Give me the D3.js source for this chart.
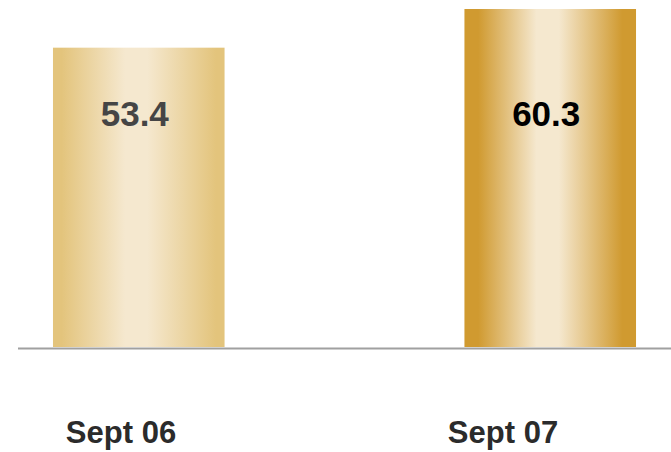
<!DOCTYPE html>
<html>
<head>
<meta charset="utf-8">
<script src="https://cdn.jsdelivr.net/npm/d3@7"></script>
<style>
  html, body { margin: 0; padding: 0; background: #fff; }
  text { font-family: "Liberation Sans", Arial, sans-serif; font-weight: bold; }
</style>
</head>
<body>
<div id="chart"></div>
<script>
const categories = ["Sept 06", "Sept 07"];
const values = [53.4, 60.3];

const width = 671;
const height = 452;

// look of each bar: edge colour of the gradient, colour of the value text
const barLook = [
  { edge: "#e3c47c", mid: "#f5e8cf", label: "#454545" },
  { edge: "#d09a30", mid: "#f5e8cf", label: "#000000" }
];

const svg = d3.select("#chart").append("svg")
  .attr("width", width)
  .attr("height", height);

const x = d3.scaleBand()
  .domain(categories)
  .range([18, 671])
  .paddingInner(0.583)
  .paddingOuter(0.085);

const y = d3.scaleLinear()
  .domain([0, d3.max(values)])
  .range([347, 9]);

// label positions for categories sit a bit left of the bars
const xLabel = d3.scalePoint()
  .domain(categories)
  .range([121, 503]);

const defs = svg.append("defs");
barLook.forEach(function(s, i) {
  let g = defs.append("linearGradient")
    .attr("id", "grad" + i)
    .attr("x1", "0%").attr("x2", "100%")
    .attr("y1", "0%").attr("y2", "0%");
  g.append("stop").attr("offset", "0%").attr("stop-color", s.edge);
  g.append("stop").attr("offset", i == 1 ? "8%" : "5%").attr("stop-color", s.edge);
  g.append("stop").attr("offset", "42%").attr("stop-color", s.mid);
  g.append("stop").attr("offset", "55%").attr("stop-color", s.mid);
  g.append("stop").attr("offset", i == 1 ? "92%" : "95%").attr("stop-color", s.edge);
  g.append("stop").attr("offset", "100%").attr("stop-color", s.edge);
});

const data = categories.map(function(c, i) {
  return { cat: c, value: values[i], i: i };
});

svg.selectAll("rect.bar")
  .data(data)
  .enter().append("rect")
  .attr("class", "bar")
  .attr("x", function(d) { return x(d.cat); })
  .attr("width", x.bandwidth())
  .attr("y", function(d) { return y(d.value); })
  .attr("height", function(d) { return y(0) - y(d.value); })
  .attr("fill", function(d) { return "url(#grad" + d.i + ")"; });

// baseline
svg.append("line")
  .attr("x1", 18)
  .attr("x2", width)
  .attr("y1", y(0) + 1.5)
  .attr("y2", y(0) + 1.5)
  .attr("stroke", "#a0a0a0")
  .attr("stroke-width", 2);

svg.selectAll("text.val")
  .data(data)
  .enter().append("text")
  .attr("class", "val")
  .attr("x", function(d) { return x(d.cat) + x.bandwidth() / 2 - 4; })
  .attr("y", 126)
  .attr("text-anchor", "middle")
  .attr("font-size", "35px")
  .attr("fill", function(d) { return barLook[d.i].label; })
  .text(function(d) { return d.value.toFixed(1); });

svg.selectAll("text.cat")
  .data(data)
  .enter().append("text")
  .attr("class", "cat")
  .attr("x", function(d) { return xLabel(d.cat); })
  .attr("y", 443)
  .attr("text-anchor", "middle")
  .attr("font-size", "31px")
  .attr("fill", "#2b2b2b")
  .text(function(d) { return d.cat; });
</script>
</body>
</html>
